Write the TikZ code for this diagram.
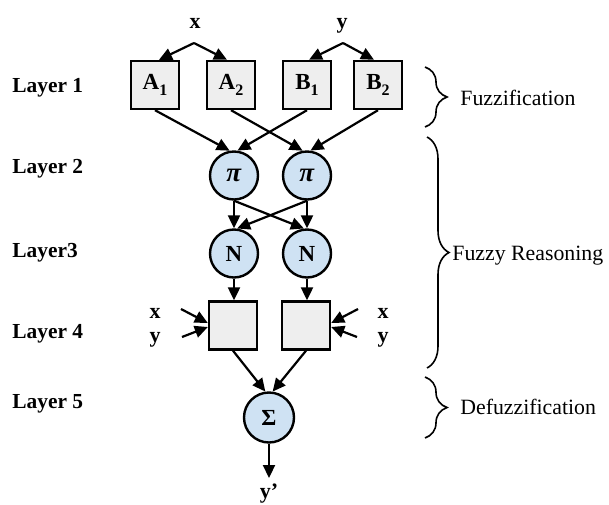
\documentclass[tikz,border=0pt]{standalone}
\usepackage{fontspec}
\setmainfont{Liberation Serif}
\usetikzlibrary{arrows.meta,decorations.pathreplacing}
\definecolor{boxfill}{HTML}{EEEEEE}
\definecolor{cellfill}{HTML}{CFE2F3}
\newcommand{\subidx}[1]{\raisebox{-0.55ex}{\fontsize{8}{9}\selectfont #1}}
\begin{document}
\begin{tikzpicture}[x=0.5pt,y=-0.5pt,
  lbl/.style={font=\fontsize{10.7}{12}\selectfont\bfseries, anchor=base west, inner sep=0},
  inp/.style={font=\fontsize{11}{12}\selectfont\bfseries, anchor=base, inner sep=0},
  unit/.style={draw, line width=1.2pt, fill=boxfill, minimum size=24pt, inner sep=0,
    font=\fontsize{11.5}{12}\selectfont\bfseries},
  cell/.style={draw, circle, line width=1.2pt, fill=cellfill, minimum size=24pt, inner sep=0,
    font=\fontsize{11.5}{12}\selectfont\bfseries},
  arr/.style={line width=1.1pt, -{Triangle[length=6.5pt,width=6pt]}},
  brc/.style={decorate, decoration={brace, amplitude=11pt}, line width=0.8pt},
  note/.style={font=\fontsize{10.9}{12}\selectfont, anchor=base west, inner sep=0}]

\useasboundingbox (0,0) rectangle (609,504);

% layer captions
\node[lbl] (l1) at (12,92) {Layer 1};
\node[lbl] (l2) at (12,173) {Layer 2};
\node[lbl] (l3) at (12,257) {Layer3};
\node[lbl] (l4) at (12,338) {Layer 4};
\node[lbl] (l5) at (12,408) {Layer 5};

% inputs
\node[inp] (xin) at (195,28) {x};
\node[inp] (yin) at (342,28) {y};
\coordinate (jx) at (194,43);
\coordinate (jy) at (343,43);

% layer 1: membership functions
\node[unit] (a1) at (155,85) {A\subidx{1}};
\node[unit] (a2) at (231,85) {A\subidx{2}};
\node[unit] (b1) at (307,85) {B\subidx{1}};
\node[unit] (b2) at (378,85) {B\subidx{2}};

% layer 2: rule firing strengths
\node[cell] (p1) at (234,175.5) {\fontsize{13.5}{14}\selectfont\textit{π}};
\node[cell] (p2) at (307,175.5) {\fontsize{13.5}{14}\selectfont\textit{π}};

% layer 3: normalisation
\node[cell] (n1) at (234,253.5) {N};
\node[cell] (n2) at (307,253.5) {N};

% layer 4: consequents
\node[unit] (r1) at (233,325.5) {};
\node[unit] (r2) at (306,325.5) {};

% layer 5: summation
\node[cell, minimum size=25pt] (s) at (269,417.5) {Σ};

% input fan-out
\draw[arr] (jx) -- ([xshift=2pt]a1.north);
\draw[arr] (jx) -- ([xshift=-2pt]a2.north);
\draw[arr] (jy) -- ([xshift=1pt]b1.north);
\draw[arr] (jy) -- ([xshift=-2pt]b2.north);

% layer 1 -> layer 2
\draw[arr] (a1.south) -- (p1.100);
\draw[arr] (b1.south) -- (p1.82);
\draw[arr] (a2.south) -- (p2.100);
\draw[arr] (b2.south) -- (p2.82);

% layer 2 -> layer 3
\draw[arr] (p1.south) -- (n1.north);
\draw[arr] (p1.south) -- (n2.97);
\draw[arr] (p2.south) -- (n1.83);
\draw[arr] (p2.south) -- (n2.north);

% layer 3 -> layer 4
\draw[arr] (n1.south) -- (n1.south |- r1.north);
\draw[arr] (n2.south) -- (n2.south |- r2.north);

% side inputs of layer 4
\node[inp] (x4l) at (155,318) {x};
\node[inp] (y4l) at (155,342) {y};
\node[inp] (x4r) at (383,318) {x};
\node[inp] (y4r) at (383,342) {y};
\coordinate (lx) at (181,309);
\coordinate (ly) at (182,337);
\coordinate (rx) at (358,309);
\coordinate (ry) at (357,337);
\draw[arr] (lx) -- ([yshift=1.25pt]r1.west);
\draw[arr] (ly) -- ([yshift=-0.75pt]r1.west);
\draw[arr] (rx) -- ([yshift=1.25pt]r2.east);
\draw[arr] (ry) -- ([yshift=-0.75pt]r2.east);

% layer 4 -> layer 5 -> output
\draw[arr] (r1.south) -- (s.98);
\draw[arr] (r2.south) -- (s.82);
\coordinate (out) at (269,478);
\draw[arr] (s.south) -- (out);
\node[inp] (yout) at (269,498) {y’};

% stage braces
\draw[brc] (425,67) -- (425,127);
\draw[brc] (427,137) -- (427,368);
\draw[brc] (425,377) -- (425,438);
\node[note] (fz) at (460,105) {Fuzzification};
\node[note] (fr) at (452,260) {Fuzzy Reasoning};
\node[note] (dz) at (460,414) {Defuzzification};
\end{tikzpicture}
\end{document}
